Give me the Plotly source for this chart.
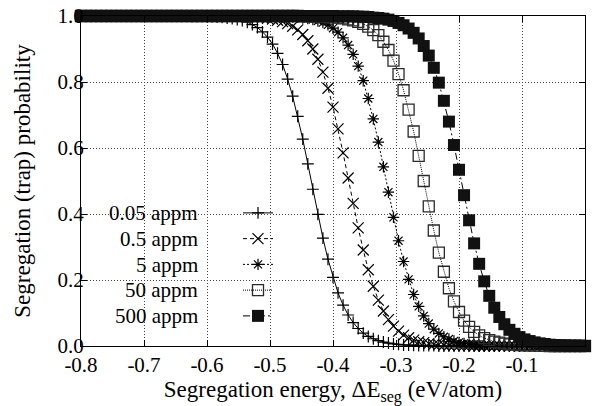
import plotly.graph_objects as go

# Segregation energy (eV/atom) sampling positions
energy = [
    -0.800, -0.792, -0.784, -0.776, -0.768, -0.760, -0.752, -0.744, -0.736, -0.728,
    -0.720, -0.712, -0.704, -0.696, -0.688, -0.680, -0.672, -0.664, -0.656, -0.648,
    -0.640, -0.632, -0.624, -0.616, -0.608, -0.600, -0.592, -0.584, -0.576, -0.568,
    -0.560, -0.552, -0.544, -0.536, -0.528, -0.520, -0.512, -0.504, -0.496, -0.488,
    -0.480, -0.472, -0.464, -0.456, -0.448, -0.440, -0.432, -0.424, -0.416, -0.408,
    -0.400, -0.392, -0.384, -0.376, -0.368, -0.360, -0.352, -0.344, -0.336, -0.328,
    -0.320, -0.312, -0.304, -0.296, -0.288, -0.280, -0.272, -0.264, -0.256, -0.248,
    -0.240, -0.232, -0.224, -0.216, -0.208, -0.200, -0.192, -0.184, -0.176, -0.168,
    -0.160, -0.152, -0.144, -0.136, -0.128, -0.120, -0.112, -0.104, -0.096, -0.088,
    -0.080, -0.072, -0.064, -0.056, -0.048, -0.040, -0.032, -0.024, -0.016, -0.008,
    0.000,
]

p_005 = [
    1.000, 1.000, 1.000, 1.000, 1.000, 1.000, 1.000, 1.000, 1.000, 1.000,
    1.000, 1.000, 1.000, 1.000, 1.000, 1.000, 1.000, 1.000, 1.000, 1.000,
    1.000, 1.000, 0.999, 0.999, 0.999, 0.998, 0.998, 0.997, 0.996, 0.994,
    0.992, 0.989, 0.986, 0.981, 0.974, 0.965, 0.952, 0.936, 0.915, 0.887,
    0.853, 0.809, 0.757, 0.696, 0.627, 0.552, 0.475, 0.399, 0.327, 0.263,
    0.208, 0.161, 0.124, 0.094, 0.071, 0.053, 0.039, 0.029, 0.022, 0.016,
    0.012, 0.009, 0.006, 0.005, 0.003, 0.003, 0.002, 0.001, 0.001, 0.001,
    0.001, 0.000, 0.000, 0.000, 0.000, 0.000, 0.000, 0.000, 0.000, 0.000,
    0.000, 0.000, 0.000, 0.000, 0.000, 0.000, 0.000, 0.000, 0.000, 0.000,
    0.000, 0.000, 0.000, 0.000, 0.000, 0.000, 0.000, 0.000, 0.000, 0.000,
    0.000,
]

p_05 = [
    1.000, 1.000, 1.000, 1.000, 1.000, 1.000, 1.000, 1.000, 1.000, 1.000,
    1.000, 1.000, 1.000, 1.000, 1.000, 1.000, 1.000, 1.000, 1.000, 1.000,
    1.000, 1.000, 1.000, 1.000, 1.000, 1.000, 1.000, 1.000, 1.000, 0.999,
    0.999, 0.999, 0.999, 0.998, 0.997, 0.996, 0.995, 0.993, 0.991, 0.987,
    0.983, 0.977, 0.969, 0.958, 0.944, 0.925, 0.900, 0.869, 0.830, 0.781,
    0.724, 0.658, 0.585, 0.509, 0.432, 0.358, 0.291, 0.231, 0.181, 0.139,
    0.106, 0.080, 0.060, 0.045, 0.033, 0.025, 0.018, 0.013, 0.010, 0.007,
    0.005, 0.004, 0.003, 0.002, 0.002, 0.001, 0.001, 0.001, 0.000, 0.000,
    0.000, 0.000, 0.000, 0.000, 0.000, 0.000, 0.000, 0.000, 0.000, 0.000,
    0.000, 0.000, 0.000, 0.000, 0.000, 0.000, 0.000, 0.000, 0.000, 0.000,
    0.000,
]

p_5 = [
    1.000, 1.000, 1.000, 1.000, 1.000, 1.000, 1.000, 1.000, 1.000, 1.000,
    1.000, 1.000, 1.000, 1.000, 1.000, 1.000, 1.000, 1.000, 1.000, 1.000,
    1.000, 1.000, 1.000, 1.000, 1.000, 1.000, 1.000, 1.000, 1.000, 1.000,
    1.000, 1.000, 1.000, 1.000, 1.000, 1.000, 0.999, 0.999, 0.999, 0.999,
    0.998, 0.998, 0.997, 0.996, 0.994, 0.992, 0.989, 0.985, 0.980, 0.973,
    0.963, 0.951, 0.934, 0.912, 0.884, 0.848, 0.804, 0.750, 0.688, 0.618,
    0.543, 0.466, 0.390, 0.319, 0.256, 0.202, 0.156, 0.120, 0.091, 0.068,
    0.051, 0.038, 0.028, 0.021, 0.015, 0.011, 0.008, 0.006, 0.005, 0.003,
    0.002, 0.002, 0.001, 0.001, 0.001, 0.001, 0.000, 0.000, 0.000, 0.000,
    0.000, 0.000, 0.000, 0.000, 0.000, 0.000, 0.000, 0.000, 0.000, 0.000,
    0.000,
]

p_50 = [
    1.000, 1.000, 1.000, 1.000, 1.000, 1.000, 1.000, 1.000, 1.000, 1.000,
    1.000, 1.000, 1.000, 1.000, 1.000, 1.000, 1.000, 1.000, 1.000, 1.000,
    1.000, 1.000, 1.000, 1.000, 1.000, 1.000, 1.000, 1.000, 1.000, 1.000,
    1.000, 1.000, 1.000, 1.000, 1.000, 1.000, 1.000, 1.000, 1.000, 1.000,
    1.000, 1.000, 1.000, 1.000, 0.999, 0.999, 0.999, 0.998, 0.998, 0.997,
    0.996, 0.995, 0.993, 0.990, 0.987, 0.982, 0.976, 0.968, 0.957, 0.942,
    0.922, 0.897, 0.865, 0.824, 0.775, 0.716, 0.650, 0.576, 0.500, 0.423,
    0.350, 0.283, 0.225, 0.175, 0.135, 0.103, 0.077, 0.058, 0.043, 0.032,
    0.024, 0.018, 0.013, 0.010, 0.007, 0.005, 0.004, 0.003, 0.002, 0.002,
    0.001, 0.001, 0.001, 0.000, 0.000, 0.000, 0.000, 0.000, 0.000, 0.000,
    0.000,
]

p_500 = [
    1.000, 1.000, 1.000, 1.000, 1.000, 1.000, 1.000, 1.000, 1.000, 1.000,
    1.000, 1.000, 1.000, 1.000, 1.000, 1.000, 1.000, 1.000, 1.000, 1.000,
    1.000, 1.000, 1.000, 1.000, 1.000, 1.000, 1.000, 1.000, 1.000, 1.000,
    1.000, 1.000, 1.000, 1.000, 1.000, 1.000, 1.000, 1.000, 1.000, 1.000,
    1.000, 1.000, 1.000, 1.000, 1.000, 1.000, 1.000, 1.000, 1.000, 1.000,
    1.000, 0.999, 0.999, 0.999, 0.999, 0.998, 0.998, 0.997, 0.995, 0.994,
    0.992, 0.989, 0.985, 0.979, 0.972, 0.962, 0.949, 0.932, 0.909, 0.880,
    0.843, 0.798, 0.743, 0.680, 0.609, 0.534, 0.457, 0.381, 0.311, 0.249,
    0.196, 0.152, 0.116, 0.088, 0.066, 0.049, 0.037, 0.027, 0.020, 0.015,
    0.011, 0.008, 0.006, 0.004, 0.003, 0.002, 0.002, 0.001, 0.001, 0.001,
    0.000,
]

series_names = ["0.05 appm", "0.5 appm", "5 appm", "50 appm", "500 appm"]
series_values = [p_005, p_05, p_5, p_50, p_500]

x_tick_vals = [-0.8, -0.7, -0.6, -0.5, -0.4, -0.3, -0.2, -0.1, 0.0]
x_tick_text = ["-0.8", "-0.7", "-0.6", "-0.5", "-0.4", "-0.3", "-0.2", "-0.1", "0.0"]
y_tick_vals = [0.0, 0.2, 0.4, 0.6, 0.8, 1.0]
y_tick_text = ["0.0", "0.2", "0.4", "0.6", "0.8", "1.0"]

styles = [
    dict(dash="solid", symbol="cross-thin", size=8.5, fill="black", lw=1.2),
    dict(dash="4px,3px", symbol="x-thin", size=11, fill="black", lw=1.2),
    dict(dash="2px,2px", symbol="asterisk", size=9.5, fill="black", lw=1.2),
    dict(dash="1px,1px", symbol="square-open", size=11, fill="#2a2a2a", lw=1.3),
    dict(dash="7px,3px,2px,3px", symbol="square", size=12, fill="#111111", lw=0),
]

FONT = "Liberation Serif"

# page geometry (px) used to place the key in paper coordinates
W, H = 595, 406
ML, MR, MT, MB = 81, 10, 16, 60
PW, PH = W - ML - MR, H - MT - MB


def px_to_paper_x(px):
    return (px - ML) / PW


def px_to_paper_y(py):
    return (H - MB - py) / PH


fig = go.Figure()
for name, vals, st in zip(series_names, series_values, styles):
    fig.add_trace(go.Scatter(
        x=energy, y=vals, name="", mode="lines+markers",
        hovertext=name, cliponaxis=False,
        line=dict(color="black", width=1, dash=st["dash"]),
        marker=dict(symbol=st["symbol"], size=st["size"], color=st["fill"],
                    line=dict(color=st["fill"], width=st["lw"])),
    ))

axis_common = dict(
    showline=True, linecolor="black", linewidth=1, mirror="ticks",
    ticks="inside", ticklen=6, tickcolor="black", tickwidth=1,
    showgrid=True, gridcolor="#444444", gridwidth=1, griddash="1px,2px",
    zeroline=False, automargin=False,
    tickfont=dict(family=FONT, size=21, color="black"),
)

fig.update_xaxes(
    range=[-0.8, 0.0], tickvals=x_tick_vals, ticktext=x_tick_text,
    title=dict(text="Segregation energy, ΔE<sub>seg</sub> (eV/atom)",
               font=dict(family=FONT, size=23, color="black"), standoff=0),
    **axis_common,
)
fig.update_yaxes(
    range=[0.0, 1.0], tickvals=y_tick_vals, ticktext=y_tick_text,
    ticklabelstandoff=-8,
    title=dict(text="Segregation (trap) probability",
               font=dict(family=FONT, size=23, color="black"), standoff=20),
    **axis_common,
)

# key: white panel, labels on the left, samples on the right
key_centers = [213, 238.75, 264.5, 290.25, 316]
annotations = [
    dict(text=name, xref="paper", yref="paper",
         x=px_to_paper_x(200), y=px_to_paper_y(yc),
         xanchor="right", yanchor="middle", showarrow=False,
         font=dict(family=FONT, size=21, color="black"))
    for name, yc in zip(series_names, key_centers)
]

fig.update_layout(
    width=W, height=H,
    margin=dict(l=ML, r=MR, t=MT, b=MB, pad=0),
    plot_bgcolor="white", paper_bgcolor="white",
    font=dict(family=FONT, color="black"),
    showlegend=True,
    legend=dict(
        x=px_to_paper_x(238), y=px_to_paper_y(195), xanchor="left", yanchor="top",
        bgcolor="rgba(0,0,0,0)", borderwidth=0,
        font=dict(family=FONT, size=17.5, color="black"),
    ),
    shapes=[dict(type="rect", xref="paper", yref="paper", layer="between",
                 x0=0, x1=px_to_paper_x(306), y0=px_to_paper_y(327), y1=px_to_paper_y(197),
                 fillcolor="white", line=dict(width=0))],
    annotations=annotations,
)

fig.write_html(
    "out.html",
    config={"displayModeBar": False},
    post_script="document.body.style.margin='0';document.body.style.padding='0';",
)
